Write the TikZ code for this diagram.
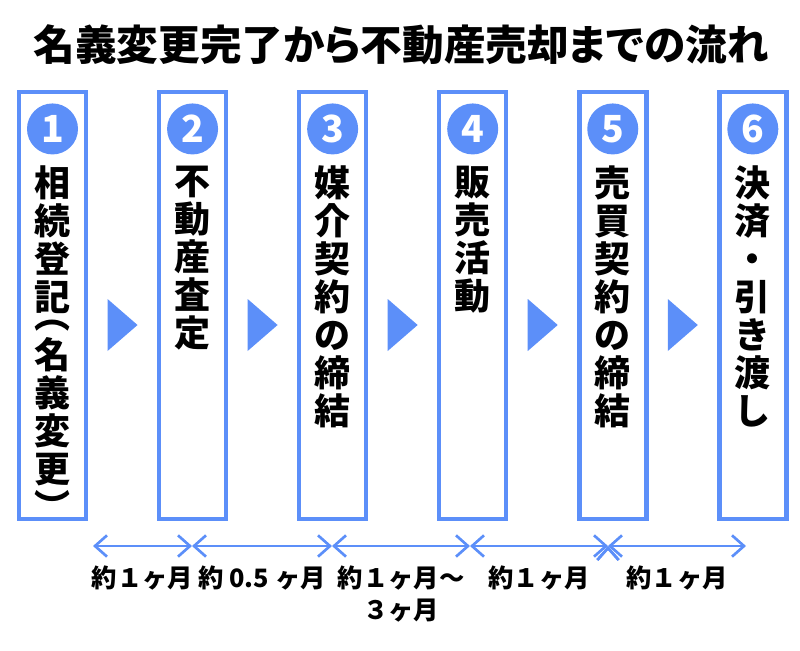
\documentclass[tikz,border=0pt]{standalone}
\usepackage{fontspec}
\setmainfont{Noto Sans CJK JP}[BoldFont={Noto Sans CJK JP Black}]
\newfontfamily\titlefont{Noto Sans CJK JP}[BoldFont={Noto Sans CJK JP Black},RawFeature=+palt]
\usetikzlibrary{
        arrows.meta,
        calc,
        positioning
    }
\definecolor{flowblue}{RGB}{92,143,249}
\tikzset{x=0.75pt,y=-0.75pt,node distance=51.4pt}
\tikzset{stepbox/.style={draw=flowblue,line width=3.4pt,minimum width=50.25pt,minimum height=320.25pt,inner sep=0pt}}
\tikzset{stepnum/.style={circle,fill=flowblue,text=white,minimum size=38.25pt,inner sep=0pt,font=\bfseries\fontsize{28}{28}\selectfont}}
\tikzset{steptext/.style={anchor=north,align=center,inner sep=0pt,font=\bfseries\fontsize{27}{28.5}\selectfont}}
\tikzset{spanline/.style={<->,>={Straight Barb[length=9pt,width=16pt]},draw=flowblue,line width=2pt}}
\tikzset{spantext/.style={below=14pt,align=center,inner sep=0pt,text=black,font=\bfseries\fontsize{19}{24}\selectfont}}

\begin{document}
\begin{tikzpicture}
            \useasboundingbox (0,0) rectangle (800,650);
            \node[font=\titlefont\bfseries\fontsize{31.2}{31.2}\selectfont] (title) at (401,45) {名義変更完了から不動産売却までの流れ};
            \node[stepbox] (b1) at (52.5,305.5) {};
            \node[stepbox] (b2) [right=of b1] {};
            \node[stepbox] (b3) [right=of b2] {};
            \node[stepbox] (b4) [right=of b3] {};
            \node[stepbox] (b5) [right=of b4] {};
            \node[stepbox] (b6) [right=of b5] {};
            \foreach \i in {1,...,6}
                \node[stepnum] (n\i) at ([yshift=-29.4pt]b\i.north) {\i};
            \node[steptext] (t1) at ([yshift=-57pt]b1.north) {相\\続\\登\\記\\[-15pt]︵\\[1pt]名\\義\\変\\更\\︶};
            \node[steptext] (t2) at ([yshift=-57pt]b2.north) {不\\動\\産\\査\\定};
            \node[steptext] (t3) at ([yshift=-57pt]b3.north) {媒\\介\\契\\約\\の\\締\\結};
            \node[steptext] (t4) at ([yshift=-57pt]b4.north) {販\\売\\活\\動};
            \node[steptext] (t5) at ([yshift=-57pt]b5.north) {売\\買\\契\\約\\の\\締\\結};
            \node[steptext] (t6) at ([yshift=-57pt]b6.north) {決\\済\\・\\引\\き\\渡\\し};
            % triangles between the steps
            \foreach \i/\j in {1/2,2/3,3/4,4/5,5/6}
                \fill[flowblue] ($(b\i.east)!0.5!(b\j.west)+(-15,-6.5)$) -- ++(30,26) -- ++(-30,26) -- cycle;
            \coordinate (d0) at (93,546);
            \coordinate (d1) at (192,546);
            \coordinate (d2) at (332,546);
            \coordinate (d3) at (470,546);
            \coordinate (d4) at (608,546);
            \coordinate (d5) at (746,546);
            \path[spanline]
                (d0) edge node[spantext] {約１ヶ月} (d1)
                (d1) edge node[spantext] {約 0.5 ヶ月} (d2)
                (d2) edge node[spantext] {約１ヶ月〜\\３ヶ月} (d3)
                (d3) edge node[spantext] {約１ヶ月} (d4)
                (d4) edge node[spantext] {約１ヶ月} (d5)
            ;
        \end{tikzpicture}
\end{document}
